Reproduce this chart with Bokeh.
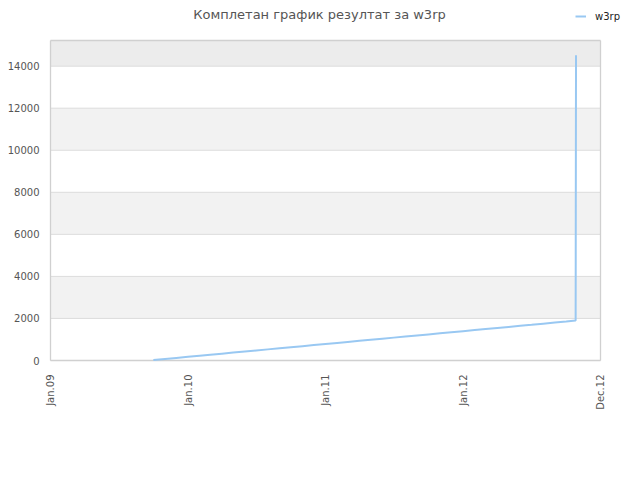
import datetime as dt
from bokeh.plotting import figure
from bokeh.models import (Range1d, FixedTicker, BoxAnnotation, Label, Legend, LegendItem)
from bokeh.embed import file_html
from bokeh.resources import INLINE
import math

# ---------------- data ----------------
title_text = "Комплетан график резултат за w3rp"
series_name = "w3rp"

dates = [
    "2009-10-01", "2009-11-01", "2009-12-01",
    "2010-01-01", "2010-02-01", "2010-03-01", "2010-04-01", "2010-05-01", "2010-06-01",
    "2010-07-01", "2010-08-01", "2010-09-01", "2010-10-01", "2010-11-01", "2010-12-01",
    "2011-01-01", "2011-02-01", "2011-03-01", "2011-04-01", "2011-05-01", "2011-06-01",
    "2011-07-01", "2011-08-01", "2011-09-01", "2011-10-01", "2011-11-01", "2011-12-01",
    "2012-01-01", "2012-02-01", "2012-03-01", "2012-04-01", "2012-05-01", "2012-06-01",
    "2012-07-01", "2012-08-01", "2012-09-01", "2012-10-01", "2012-10-26", "2012-10-27",
]
values = [
    20, 72, 122,
    174, 226, 273, 325, 375, 427,
    477, 529, 581, 631, 683, 733,
    785, 837, 884, 936, 986, 1038,
    1088, 1140, 1192, 1242, 1294, 1344,
    1396, 1448, 1497, 1549, 1599, 1651,
    1701, 1753, 1805, 1855, 1898, 14520,
]

tick_dates = ["2009-01-01", "2010-01-01", "2011-01-01", "2012-01-01", "2012-12-31"]
tick_labels = ["Jan.09", "Jan.10", "Jan.11", "Jan.12", "Dec.12"]
y_ticks = [0, 2000, 4000, 6000, 8000, 10000, 12000, 14000]

x_start, x_end = "2009-01-01", "2012-12-31"   # plot area extent
y_start, y_end = 0, 15220

# ---------------- layout (pixels) ----------------
W, H = 624, 464
AREA_L, AREA_R, AREA_T, AREA_B = 50, 600, 40, 360   # visible plot area box

# ---------------- helpers ----------------
EPOCH = dt.datetime(1970, 1, 1)

def to_dt(s):
    return dt.datetime.strptime(s, "%Y-%m-%d")

def to_ms(s):
    return (to_dt(s) - EPOCH).total_seconds() * 1000.0

xs = [to_dt(d) for d in dates]
x0, x1 = to_ms(x_start), to_ms(x_end)

# the frame reaches a little beyond the area's left/bottom and up to the
# canvas's right/top edge, so the border, title and legend are drawn unclipped
ms_per_px = (x1 - x0) / (AREA_R - AREA_L)
val_per_px = (y_end - y_start) / (AREA_B - AREA_T)
PAD = 2
frame_x_start = x0 - ms_per_px * PAD
frame_x_end = x0 + ms_per_px * (W - AREA_L)
frame_y_start = y_start - val_per_px * PAD
frame_y_end = y_start + val_per_px * AREA_B

FONT = "DejaVu Sans"

p = figure(width=W, height=H, x_axis_type="datetime",
           output_backend="svg", toolbar_location=None, title=None,
           x_range=Range1d(frame_x_start, frame_x_end),
           y_range=Range1d(frame_y_start, frame_y_end),
           min_border_left=AREA_L - PAD, min_border_right=0,
           min_border_top=0, min_border_bottom=H - AREA_B - PAD)

p.background_fill_color = "white"
p.border_fill_color = "white"
p.outline_line_color = None
p.xgrid.grid_line_color = None
p.ygrid.grid_line_color = None

# alternating bands
for i in range(1, len(y_ticks) - 1, 2):
    p.add_layout(BoxAnnotation(left=x0, right=x1, bottom=y_ticks[i], top=y_ticks[i + 1],
                               fill_color="#f2f2f2", fill_alpha=1.0, line_color=None,
                               level="underlay"))
p.add_layout(BoxAnnotation(left=x0, right=x1, bottom=y_ticks[-1], top=y_end,
                           fill_color="#ececec", fill_alpha=1.0, line_color=None,
                           level="underlay"))

# horizontal grid lines
p.segment(x0=[x0] * len(y_ticks), x1=[x1] * len(y_ticks), y0=y_ticks, y1=y_ticks,
          line_color="#dcdcdc", line_width=1)

# plot-area border (four edges)
p.segment(x0=[x0, x1, x0, x0], x1=[x0, x1, x1, x1],
          y0=[y_start, y_start, y_start, y_end], y1=[y_end, y_end, y_start, y_end],
          line_color="#d0d0d0", line_width=1.3)

# axes
p.xaxis.ticker = FixedTicker(ticks=[to_ms(d) for d in tick_dates])
p.xaxis.major_label_overrides = {to_ms(d): lab for d, lab in zip(tick_dates, tick_labels)}
p.xaxis.major_label_orientation = math.pi / 2
p.yaxis.ticker = FixedTicker(ticks=y_ticks)

for ax in (p.xaxis[0], p.yaxis[0]):
    ax.axis_line_color = None
    ax.major_tick_line_color = None
    ax.minor_tick_line_color = None
    ax.major_tick_out = 0
    ax.major_tick_in = 0
    ax.major_label_text_font = FONT
    ax.major_label_text_font_size = "10px"
    ax.major_label_text_color = "#555555"
p.xaxis.major_label_standoff = 12
p.yaxis.major_label_standoff = 9

# line
r = p.line(xs, values, line_color="#99c8f2", line_width=2)

# legend at the top right (inside the enlarged frame)
legend = Legend(items=[LegendItem(label=series_name, renderers=[r])],
                location=(525 + PAD, AREA_B + PAD - 22), orientation="horizontal",
                glyph_width=11, glyph_height=12, label_standoff=9,
                label_height=12, padding=0, margin=0, spacing=0,
                border_line_color=None, background_fill_alpha=0,
                label_text_font=FONT, label_text_font_size="10px",
                label_text_color="#222222")
p.add_layout(legend, "center")

# title (placed in data space above the plot area)
title_x = x0 + ms_per_px * (319 - AREA_L)
title_y = y_start + val_per_px * (AREA_B - 14)
p.add_layout(Label(x=title_x, y=title_y, text=title_text,
                   text_align="center", text_baseline="middle",
                   text_font=FONT, text_font_size="13px", text_color="#555555"))

open("out.html", "w").write(file_html(p, INLINE))
